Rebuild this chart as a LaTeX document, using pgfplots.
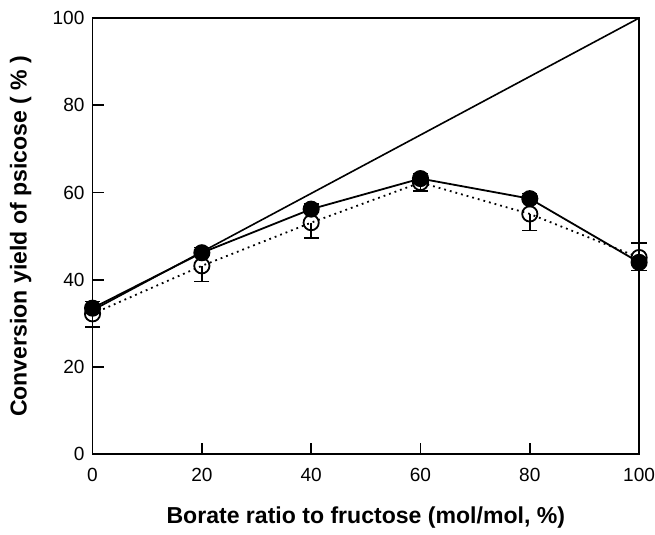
\documentclass[border=0pt]{standalone}
\usepackage{pgfplots}
\pgfplotsset{compat=1.18}
\usepackage{fontspec}
\setmainfont{Liberation Sans}
\begin{document}
\begin{tikzpicture}
\begin{axis}[
  scale only axis,
  width=272.5pt, height=217.5pt,
  xmin=0, xmax=100, ymin=0, ymax=100,
  xtick={0,20,40,60,80,100},
  ytick={0,20,40,60,80,100},
  tick align=inside,
  tick pos=left,
  major tick length=5.5pt,
  axis line style={line width=0.9pt},
  tick style={line width=0.9pt, black},
  clip=false,
  /pgf/number format/assume math mode=true,
  xticklabel={\fontsize{9.5}{11}\selectfont\pgfmathprintnumber{\tick}},
  yticklabel={\fontsize{9.5}{11}\selectfont\pgfmathprintnumber{\tick}},
  xticklabel style={yshift=-3.5pt, inner xsep=0pt},
  yticklabel style={xshift=-0.5pt},
  xlabel={\textbf{Borate ratio to fructose (mol/mol, \%)}},
  ylabel={\textbf{Conversion yield of psicose ( \% )}},
  label style={font=\fontsize{11.5}{13}\selectfont},
  xlabel style={yshift=-5.5pt},
  ylabel style={yshift=2pt, inner ysep=5pt},
]
\path (rel axis cs:0,1) ++(0,9pt) coordinate (topmargin);
\addplot[black, line width=0.8pt, no marks] coordinates {(0,33) (100,100)};
\addplot[black, line width=0.9pt, mark=*, mark size=3.8pt,
  mark options={solid, fill=black},
  error bars/.cd, y dir=plus, y explicit, error mark options={rotate=90, mark size=3.8pt, line width=0.8pt},
  error bar style={line width=0.8pt}]
  coordinates {
  (0,33.5) +- (0,1.5)
  (20,46.2) +- (0,1.2)
  (40,56.2) +- (0,1.2)
  (60,63.2) +- (0,1.2)
  (80,58.6) +- (0,1.2)
  (100,44) +- (0,4.5)
};
\addplot[black, line width=0.9pt, dotted, mark=o, mark size=3.8pt,
  mark options={solid, fill=white, line width=0.9pt},
  error bars/.cd, y dir=minus, y explicit, error mark options={rotate=90, mark size=3.8pt, line width=0.8pt, solid},
  error bar style={line width=0.8pt, solid}]
  coordinates {
  (0,32.2) +- (0,3)
  (20,43.2) +- (0,3.6)
  (40,53.1) +- (0,3.5)
  (60,62.3) +- (0,2)
  (80,55.1) +- (0,3.8)
  (100,45.1) +- (0,3.0)
};
\end{axis}
\end{tikzpicture}
\end{document}
